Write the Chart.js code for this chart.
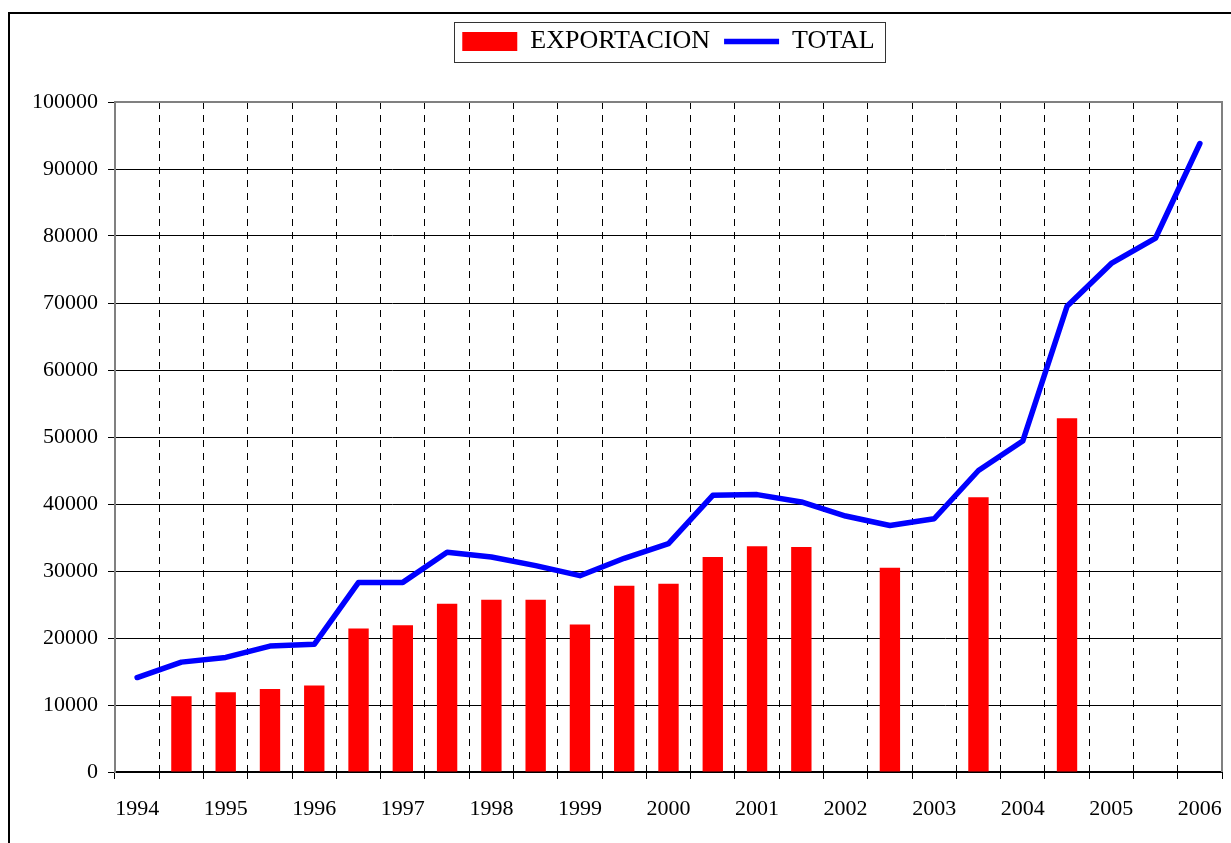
<!DOCTYPE html>
<html>
<head>
<meta charset="utf-8">
<script src="https://cdn.jsdelivr.net/npm/chart.js@4.4.1/dist/chart.umd.min.js"></script>
<style>
  body { margin: 0; background: #fff; }
</style>
</head>
<body>
<canvas id="grafico" width="1231" height="843"></canvas>
<script>
// semestres: solo se rotula el primero de cada año
const categories = ["1994", "", "1995", "", "1996", "", "1997", "", "1998", "", "1999", "", "2000",
                    "", "2001", "", "2002", "", "2003", "", "2004", "", "2005", "", "2006"];
const exportacion = [null, 11300, 11900, 12400, 12900, 21400, 21900, 25100, 25700, 25700, 22000, 27800,
                     28100, 32100, 33700, 33600, null, 30500, null, 41000, null, 52800, null, null, null];
const total = [14100, 16400, 17100, 18800, 19050, 28300, 28300, 32800, 32100, 30800, 29300, 31900,
               34100, 41300, 41400, 40300, 38200, 36800, 37800, 45000, 49400, 69500, 75900, 79700, 93800];
const yMin = 0, yMax = 100000, yStep = 10000;

Chart.defaults.font.family = "'Liberation Serif', 'Times New Roman', serif";
Chart.defaults.color = "#000";

// marco exterior, borde del area de trazado y caja de la leyenda
const marco = {
    id: "marco",
    beforeDraw(chart) {
        const ctx = chart.ctx;
        ctx.save();
        ctx.fillStyle = "#fff";
        ctx.fillRect(0, 0, chart.width, chart.height);
        ctx.strokeStyle = "#000";
        ctx.lineWidth = 2;
        ctx.strokeRect(9, 13, chart.width + 50, chart.height + 50);
        ctx.restore();
    },
    afterDraw(chart) {
        const ctx = chart.ctx;
        const a = chart.chartArea;
        ctx.save();
        ctx.strokeStyle = "#808080";
        ctx.lineWidth = 2;
        ctx.beginPath();
        ctx.moveTo(a.left, a.top);
        ctx.lineTo(a.right, a.top);
        ctx.lineTo(a.right, a.bottom);
        ctx.stroke();

        const boxes = chart.legend.legendHitBoxes;
        if (boxes.length) {
            const first = boxes[0], last = boxes[boxes.length - 1];
            const l = Math.round(first.left - 8);
            const r = Math.round(last.left + last.width + 10);
            const cy = first.top + first.height / 2;
            ctx.strokeStyle = "#333";
            ctx.lineWidth = 1;
            ctx.strokeRect(l + 0.5, Math.round(cy - 20) + 0.5, r - l, 40);
        }
        ctx.restore();
    }
};

new Chart(document.getElementById("grafico"), {
    type: "bar",
    data: {
        labels: categories,
        datasets: [
            {
                label: "EXPORTACION",
                data: exportacion,
                backgroundColor: "#ff0000",
                borderWidth: 0,
                categoryPercentage: 1,
                barPercentage: 0.46,
            },
            {
                type: "line",
                label: "TOTAL",
                data: total,
                borderColor: "#0000ff",
                backgroundColor: "#0000ff",
                borderWidth: 5.5,
                borderCapStyle: "round",
                borderJoinStyle: "round",
                pointRadius: 0,
                tension: 0,
                fill: false,
            },
        ],
    },
    options: {
        responsive: false,
        animation: false,
        layout: { padding: { top: 14.5, left: 0, right: 9, bottom: 0 } },
        plugins: {
            tooltip: { enabled: false },
            legend: {
                position: "top",
                fullSize: false,
                weight: 1000,
                labels: {
                    font: { size: 26 },
                    color: "#000",
                    usePointStyle: true,
                    pointStyleWidth: 55,
                    boxHeight: 19,
                    padding: 14,
                    generateLabels(chart) {
                        const items = Chart.defaults.plugins.legend.labels.generateLabels(chart);
                        items.forEach(it => {
                            it.pointStyle = it.datasetIndex === 0 ? "rect" : "line";
                        });
                        return items;
                    }
                }
            },
            // separador vacio entre leyenda y grafico
            subtitle: {
                display: true,
                text: "",
                position: "top",
                fullSize: false,
                weight: 500,
                font: { size: 10, lineHeight: 1 },
                padding: { top: 27.5, bottom: 0 }
            }
        },
        scales: {
            x: {
                offset: true,
                afterFit(scale) {
                    scale.height = 71;
                    scale.paddingLeft = 0;
                    scale.paddingRight = 0;
                },
                grid: {
                    offset: true,
                    color: "#000",
                    lineWidth: 1,
                    tickLength: 7,
                    tickColor: "#000",
                    tickWidth: 1,
                    tickBorderDash: [],
                },
                border: { color: "#000", width: 2, dash: [7, 6] },
                ticks: {
                    autoSkip: false,
                    maxRotation: 0,
                    padding: 17,
                    font: { size: 22 },
                    color: "#000"
                }
            },
            y: {
                min: yMin,
                max: yMax,
                afterFit(scale) { scale.width = 115; },
                grid: {
                    color: "#000",
                    lineWidth: 1,
                    tickLength: 7,
                    tickColor: "#000",
                },
                border: { color: "#808080", width: 2 },
                ticks: {
                    stepSize: yStep,
                    padding: 10,
                    font: { size: 22 },
                    color: "#000",
                    callback: v => String(v)
                }
            }
        }
    },
    plugins: [marco]
});
</script>
</body>
</html>
